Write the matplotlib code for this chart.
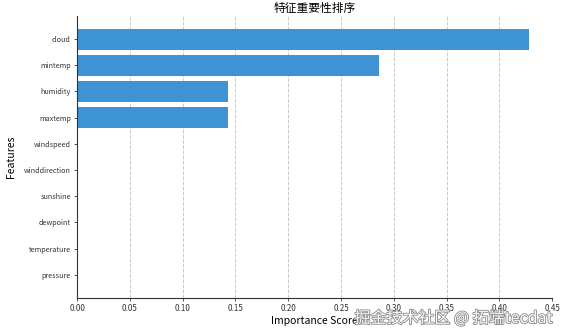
import matplotlib.pyplot as plt
import matplotlib.patheffects as pe

plt.rcParams['font.family'] = ['Noto Sans CJK SC', 'DejaVu Sans']

features = ['cloud', 'mintemp', 'humidity', 'maxtemp', 'windspeed',
            'winddirection', 'sunshine', 'dewpoint', 'temperature', 'pressure']
importance = [0.428, 0.2855, 0.1425, 0.1425, 0.0, 0.0, 0.0, 0.0, 0.0, 0.0]
xticks = [0.00, 0.05, 0.10, 0.15, 0.20, 0.25, 0.30, 0.35, 0.40, 0.45]

fig = plt.figure(figsize=(5.67, 3.3), dpi=100)
ax = fig.add_axes([0.136, 0.097, 0.838, 0.855])

ax.barh(features, importance, height=0.8, color='#3d93d4')
ax.invert_yaxis()
ax.set_xlim(0, 0.45)
ax.set_xticks(xticks)
ax.set_xticklabels([f'{v:.2f}' for v in xticks])
ax.grid(axis='x', linestyle='--', color='#bbbbbb', linewidth=0.7, alpha=0.8)
ax.set_axisbelow(True)

for s in ['top', 'right']:
    ax.spines[s].set_visible(False)
for s in ['left', 'bottom']:
    ax.spines[s].set_linewidth(0.8)
    ax.spines[s].set_color('#333333')

ax.tick_params(axis='y', labelsize=5.2, length=2.5, width=0.6, pad=2, colors='#333333')
ax.tick_params(axis='x', labelsize=5.8, length=2.5, width=0.6, pad=2, colors='#333333')
ax.set_title('特征重要性排序', fontsize=8.5, pad=3)
ax.set_xlabel('Importance Score', fontsize=7.5, labelpad=2)
ax.set_ylabel('Features', fontsize=7.5, labelpad=6)

fig.text(0.975, 0.035, '掘金技术社区 @ 拓端tecdat', ha='right', va='center',
         fontsize=11.5, color='white',
         path_effects=[pe.withStroke(linewidth=1.2, foreground='#888888')])

fig.savefig('out.png', dpi=100)
